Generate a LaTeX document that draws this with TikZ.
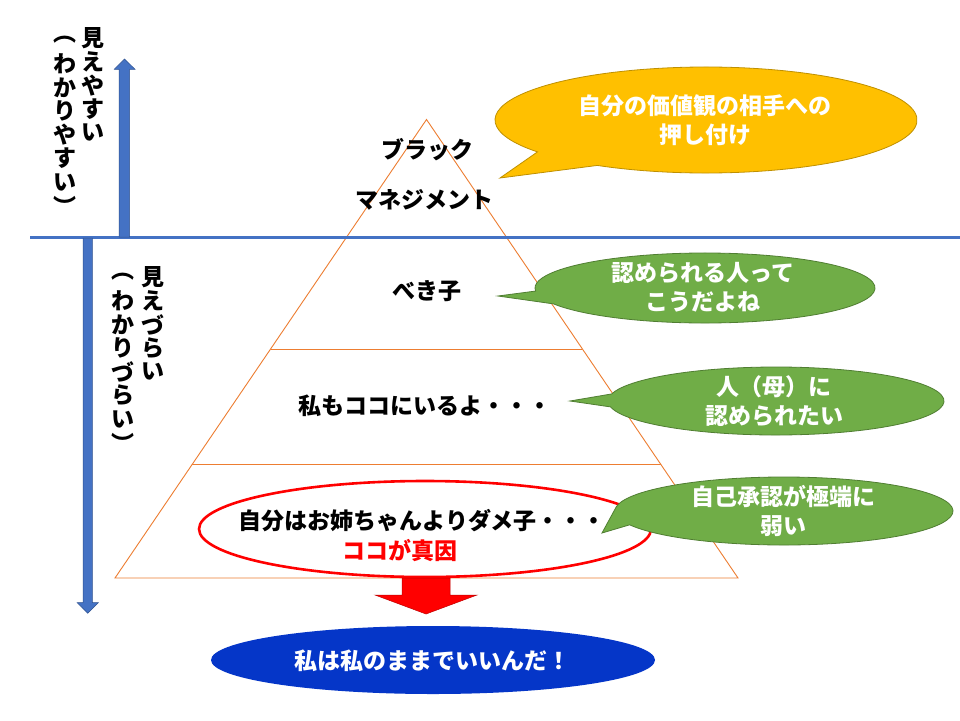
\documentclass[tikz,border=0pt]{standalone}
\usepackage{fontspec}
\setmainfont{Noto Sans CJK JP}
\usetikzlibrary{shapes.geometric,calc}
\definecolor{oblue}{HTML}{4472C4}
\definecolor{oblueD}{HTML}{2F528F}
\definecolor{oorange}{HTML}{ED7D31}
\definecolor{ogreen}{HTML}{70AD47}
\definecolor{ogreenD}{HTML}{507E32}
\definecolor{oyellow}{HTML}{FFC000}
\definecolor{oyellowD}{HTML}{BF9000}
\definecolor{dblue}{HTML}{0536C8}
\newcommand\mycallout[8]{%
  \draw[#1] ({#2+#4*cos(#6)},{#3+#5*sin(#6)}) -- (#8) --
    ({#2+#4*cos(#7)},{#3+#5*sin(#7)})
    arc[start angle=#7, end angle=#6-360, x radius=#4, y radius=#5] -- cycle;}
\tikzset{
  txt/.style={font=\fontsize{23}{29}\selectfont\bfseries, inner sep=0pt, align=center},
  pyr/.style={draw=oorange, line width=0.9pt},
  greenbub/.style={fill=ogreen, draw=ogreenD, line width=0.8pt},
  yellowbub/.style={fill=oyellow, draw=oyellowD, line width=0.8pt},
  bluearrow/.style={fill=oblue, draw=oblueD, line width=0.5pt},
}
\begin{document}
\begin{tikzpicture}[x=1pt,y=-1pt]
\useasboundingbox (0,0) rectangle (960,720);
\fill[white] (0,0) rectangle (960,720);

% pyramid
\coordinate (apex) at (426.5,119.5);
\coordinate (bl) at (115,578);
\coordinate (br) at (738,578);
\draw[pyr] (bl) -- (apex) -- (br) -- cycle;
\draw[pyr] ($(apex)!0.5005!(bl)$) -- ($(apex)!0.5005!(br)$);
\draw[pyr] ($(apex)!0.7514!(bl)$) -- ($(apex)!0.7514!(br)$);

% blue horizontal line and arrows
\draw[oblue, line width=3pt] (30,237) -- (960,237);
\draw[bluearrow] (119,237) -- (119,69.3) -- (114.3,69.3) -- (124.5,59) -- (135,69.3) -- (129.6,69.3) -- (129.6,237) -- cycle;
\draw[bluearrow] (83,238) -- (83,602.7) -- (77.3,602.7) -- (87.7,613.3) -- (98.3,602.7) -- (92.3,602.7) -- (92.3,238) -- cycle;

% vertical texts
\foreach \ch [count=\i] in {見,え,や,す,い}
  \node[txt] (ua\i) at (93,{38+23.7*(\i-1)}) {\ch};
\foreach \ch [count=\i] in {︵,わ,か,り,や,す,い,︶}
  \node[txt] (ub\i) at (65,{40+23.7*(\i-1)}) {\ch};
\foreach \ch [count=\i] in {見,え,づ,ら,い}
  \node[txt] (da\i) at (153,{277+23.7*(\i-1)}) {\ch};
\foreach \ch [count=\i] in {︵,わ,か,り,づ,ら,い,︶}
  \node[txt] (db\i) at (123,{277+23.7*(\i-1)}) {\ch};

% pyramid texts
\node[txt] (t1) at (427,150) {ブラック};
\node[txt] (t2) at (424,200) {マネジメント};
\node[txt] (t3) at (427,291) {べき子};
\node[txt] (t4) at (425,406) {私もココにいるよ・・・};
\node[txt] (t5) at (422,521) {自分はお姉ちゃんよりダメ子・・・};
\node[txt, text=red] (t6) at (400,551) {ココが真因};

% red ellipse
\node[ellipse, draw=red, line width=2.6pt, minimum width=452, minimum height=96, inner sep=0pt] (root) at (425,529) {};

% red block arrow
\draw[fill=red, draw=red!75!black, line width=0.5pt] (402,578) -- (402,595) -- (375,595) -- (426,614) -- (477,595) -- (450,595) -- (450,578) -- cycle;

% blue ellipse
\node[ellipse, fill=dblue, minimum width=444, minimum height=68, inner sep=0pt] (ok) at (433,660) {};
\node[txt, text=white] (okt) at (432,661) {私は私のままでいいんだ！};

% callouts
\coordinate (ytip) at (500,178);
\coordinate (g1tip) at (498,296);
\coordinate (g2tip) at (570,401);
\coordinate (g3tip) at (602,533);
\mycallout{yellowbub}{706}{120}{211}{53}{143}{121}{ytip}
\mycallout{greenbub}{705}{288}{170}{35}{175}{153}{g1tip}
\mycallout{greenbub}{776}{401}{168}{34}{192}{170}{g2tip}
\mycallout{greenbub}{784}{511}{169}{34}{187}{156}{g3tip}

\node[txt, text=white] (yt) at (705,120) {自分の価値観の相手への\\押し付け};
\node[txt, text=white] (g1t) at (703,287.5) {認められる人って\\こうだよね};
\node[txt, text=white] (g2t) at (774,401) {人（母）に\\認められたい};
\node[txt, text=white] (g3t) at (783,511) {自己承認が極端に\\弱い};
\end{tikzpicture}
\end{document}
